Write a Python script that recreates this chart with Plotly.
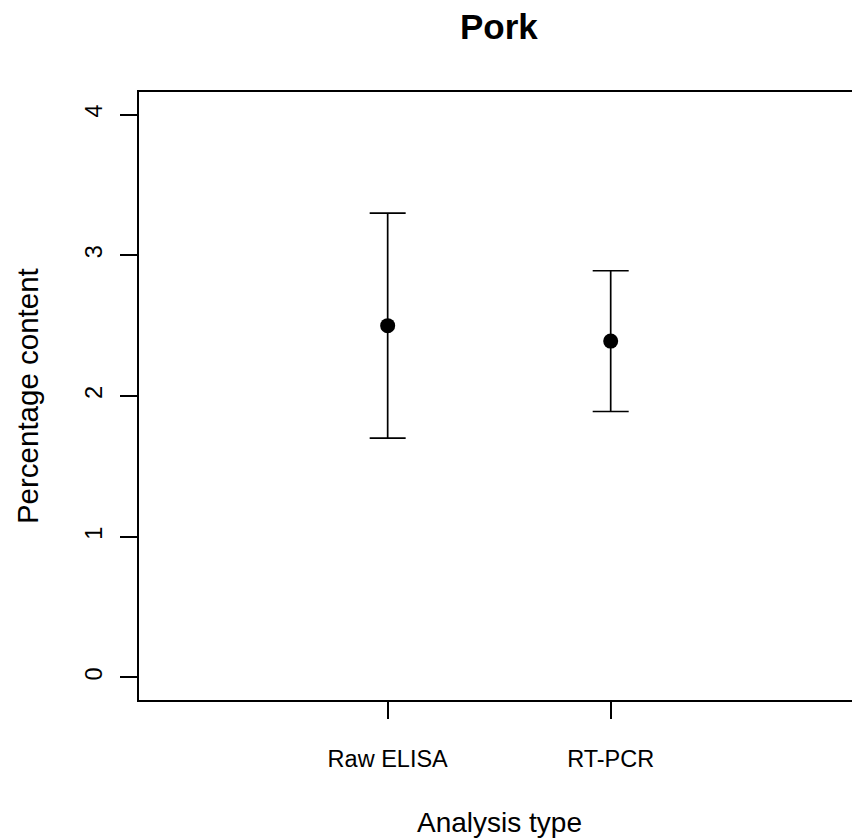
import plotly.graph_objects as go

categories = ["Raw ELISA", "RT-PCR"]
means = [2.50, 2.39]
upper = [3.30, 2.89]
lower = [1.70, 1.89]
y_ticks = [0, 1, 2, 3, 4]

positions = [i + 1 for i in range(len(categories))]
err_plus = [u - m for u, m in zip(upper, means)]
err_minus = [m - l for m, l in zip(means, lower)]

FONT = "Liberation Sans, Arial, Helvetica, sans-serif"

fig = go.Figure()
fig.add_trace(go.Scatter(
    x=positions, y=means, mode="markers",
    marker=dict(color="black", size=15),
    error_y=dict(type="data", symmetric=False, array=err_plus, arrayminus=err_minus,
                 color="black", thickness=1.7, width=18),
    showlegend=False, hoverinfo="x+y",
))

fig.update_layout(
    width=852, height=839,
    margin=dict(l=139, r=0, t=92, b=139),
    paper_bgcolor="white", plot_bgcolor="white",
    font=dict(family=FONT, color="black"),
    xaxis=dict(range=[-0.115, 3.082], tickmode="array", tickvals=positions, ticktext=categories,
               showgrid=False, zeroline=False, showline=True, linecolor="black", linewidth=1.7,
               mirror=True, ticks="outside", ticklen=17, tickwidth=1.5, tickcolor="black",
               tickfont=dict(size=23.5, family=FONT), ticklabelstandoff=20),
    yaxis=dict(range=[-0.16, 4.16], tickmode="array", tickvals=y_ticks,
               ticktext=[str(v) for v in y_ticks], tickangle=-90,
               showgrid=False, zeroline=False, showline=True, linecolor="black", linewidth=1.7,
               ticks="outside", ticklen=17, tickwidth=1.5, tickcolor="black",
               tickfont=dict(size=23.5, family=FONT), ticklabelstandoff=9),
    annotations=[
        dict(text="<b>Pork</b>", x=1.5, xref="x", y=1.107, yref="paper", showarrow=False,
             xanchor="center", yanchor="middle", font=dict(size=35, family=FONT)),
        dict(text="Analysis type", x=1.5, xref="x", y=-0.202, yref="paper", showarrow=False,
             xanchor="center", yanchor="middle", font=dict(size=28, family=FONT)),
        dict(text="Percentage content", x=-0.157, xref="paper", y=0.5, yref="paper",
             showarrow=False, textangle=-90, xanchor="center", yanchor="middle",
             font=dict(size=29.5, family=FONT)),
    ],
)

fig.write_html(
    "out.html",
    config={"displayModeBar": False},
    post_script="document.body.style.margin='0';document.body.style.overflow='hidden';",
)
